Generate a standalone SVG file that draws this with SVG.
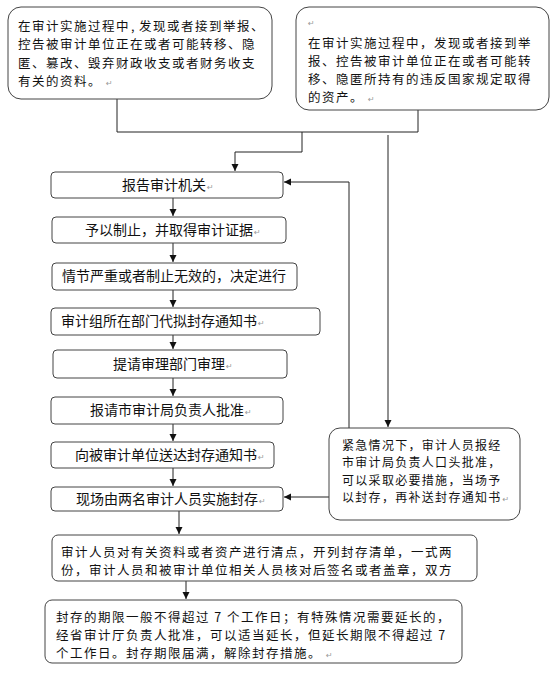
<svg xmlns="http://www.w3.org/2000/svg" width="554" height="674" viewBox="0 0 554 674">
<style>
.bx{fill:#fff;stroke:#444;stroke-width:1}
.t{font-family:"Noto Sans CJK SC","Liberation Sans",sans-serif;font-size:14px;fill:#111}
.m{font-family:"Noto Sans CJK SC","Liberation Sans",sans-serif;font-size:12.5px;letter-spacing:1.5px;fill:#111}
.e{font-family:"Noto Sans CJK SC","Liberation Sans",sans-serif;font-size:12px;letter-spacing:1.3px;fill:#111}
.pm{font-family:"DejaVu Sans",sans-serif;font-size:8px;letter-spacing:0;fill:#999}
.ln{fill:none;stroke:#222;stroke-width:1}
</style>
<defs>
<marker id="ah" markerUnits="userSpaceOnUse" markerWidth="8" markerHeight="8" refX="7" refY="4" orient="auto">
<path d="M0,0.5 L7,4 L0,7.5 z" fill="#111"/>
</marker>
</defs>
<rect width="554" height="674" fill="#fff"/>
<g id="connectors">
<polyline class="ln" points="117,99 117,132 418,132"/>
<line class="ln" x1="418" y1="110" x2="418" y2="132"/>
<polyline class="ln" points="302,132 302,152 235,152 235,171" marker-end="url(#ah)"/>
<line class="ln" x1="388" y1="135" x2="388" y2="427" stroke="#555" marker-end="url(#ah)"/>
<polyline class="ln" points="349,428 349,182 284,182" marker-end="url(#ah)"/>
<line class="ln" x1="329" y1="497" x2="284" y2="497" marker-end="url(#ah)"/>
<line class="ln" x1="173" y1="198" x2="173" y2="216" marker-end="url(#ah)"/>
<line class="ln" x1="173" y1="243" x2="173" y2="262" marker-end="url(#ah)"/>
<line class="ln" x1="173" y1="290" x2="173" y2="307" marker-end="url(#ah)"/>
<line class="ln" x1="173" y1="335" x2="173" y2="349" marker-end="url(#ah)"/>
<line class="ln" x1="173" y1="378" x2="173" y2="396" marker-end="url(#ah)"/>
<line class="ln" x1="173" y1="424" x2="173" y2="441" marker-end="url(#ah)"/>
<line class="ln" x1="173" y1="468" x2="173" y2="486" marker-end="url(#ah)"/>
<line class="ln" x1="179" y1="511" x2="179" y2="534" marker-end="url(#ah)"/>
<line class="ln" x1="186" y1="581" x2="186" y2="599" marker-end="url(#ah)"/>
</g>
<g id="n-topleft">
<rect class="bx" x="8" y="7" width="264" height="92" rx="13"/>
<text class="m"><tspan x="18" y="31">在审计实施过程中<tspan dx="1">,</tspan><tspan dx="3">发现或者接到举报、</tspan></tspan><tspan x="18" y="49.3">控告被审计单位正在或者可能转移、隐</tspan><tspan x="18" y="67.6">匿、篡改、毁弃财政收支或者财务收支</tspan><tspan x="18" y="85.9">有关的资料。</tspan><tspan class="pm" dx="4">↵</tspan></text>
</g>
<g id="n-topright">
<rect class="bx" x="296" y="7" width="253" height="103" rx="13"/>
<text class="m"><tspan class="pm" x="308" y="26">↵</tspan><tspan x="308" y="47.5">在审计实施过程中，发现或者接到举</tspan><tspan x="308" y="65.7">报、控告被审计单位正在或者可能转</tspan><tspan x="308" y="83.9">移、隐匿所持有的违反国家规定取得</tspan><tspan x="308" y="102.1">的资产。</tspan><tspan class="pm" dx="4">↵</tspan></text>
</g>
<g id="n1">
<rect class="bx" x="51" y="172" width="232" height="26" rx="4"/>
<text class="t" x="122" y="190">报告审计机关<tspan class="pm" dx="1">↵</tspan></text>
</g>
<g id="n2">
<rect class="bx" x="52" y="217" width="234" height="26" rx="4"/>
<text class="t" x="85" y="235">予以制止，并取得审计证据<tspan class="pm" dx="1">↵</tspan></text>
</g>
<g id="n3">
<rect class="bx" x="52" y="263" width="245" height="27" rx="4"/>
<text class="t" x="62" y="281">情节严重或者制止无效的，决定进行</text>
</g>
<g id="n4">
<rect class="bx" x="51" y="308" width="269" height="27" rx="4"/>
<text class="t" x="61" y="326">审计组所在部门代拟封存通知书<tspan class="pm" dx="1">↵</tspan></text>
</g>
<g id="n5">
<rect class="bx" x="53" y="350" width="234" height="28" rx="4"/>
<text class="t" x="113" y="369">提请审理部门审理<tspan class="pm" dx="1">↵</tspan></text>
</g>
<g id="n6">
<rect class="bx" x="51" y="397" width="232" height="27" rx="4"/>
<text class="t" x="90" y="415">报请市审计局负责人批准<tspan class="pm" dx="1">↵</tspan></text>
</g>
<g id="n7">
<rect class="bx" x="51" y="442" width="223" height="26" rx="4"/>
<text class="t" x="75" y="460">向被审计单位送达封存通知书<tspan class="pm" dx="1">↵</tspan></text>
</g>
<g id="n8">
<rect class="bx" x="51" y="487" width="232" height="24" rx="4"/>
<text class="t" x="76" y="504">现场由两名审计人员实施封存<tspan class="pm" dx="1">↵</tspan></text>
</g>
<g id="n-emergency">
<rect class="bx" x="329" y="428" width="191" height="92" rx="11"/>
<text class="e"><tspan x="342" y="449.5">紧急情况下，审计人员报经</tspan><tspan x="342" y="467">市审计局负责人口头批准，</tspan><tspan x="342" y="484.5">可以采取必要措施，当场予</tspan><tspan x="342" y="502">以封存，再补送封存通知书</tspan><tspan class="pm" dx="1">↵</tspan></text>
</g>
<g id="n9">
<rect class="bx" x="52" y="535" width="425" height="46" rx="6"/>
<text class="m"><tspan x="61" y="556.5">审计人员对有关资料或者资产进行清点，开列封存清单，一式两</tspan><tspan x="61" y="574.7">份，审计人员和被审计单位相关人员核对后签名或者盖章，双方</tspan></text>
</g>
<g id="n10">
<rect class="bx" x="45" y="600" width="417" height="63" rx="7"/>
<text class="m"><tspan x="56" y="621.5">封存的期限一般不得超过 7 个工作日；有特殊情况需要延长的，</tspan><tspan x="56" y="639.7">经省审计厅负责人批准，可以适当延长，但延长期限不得超过 7</tspan><tspan x="56" y="657.9">个工作日。封存期限届满，解除封存措施。</tspan><tspan class="pm" dx="4">↵</tspan></text>
</g>
</svg>
